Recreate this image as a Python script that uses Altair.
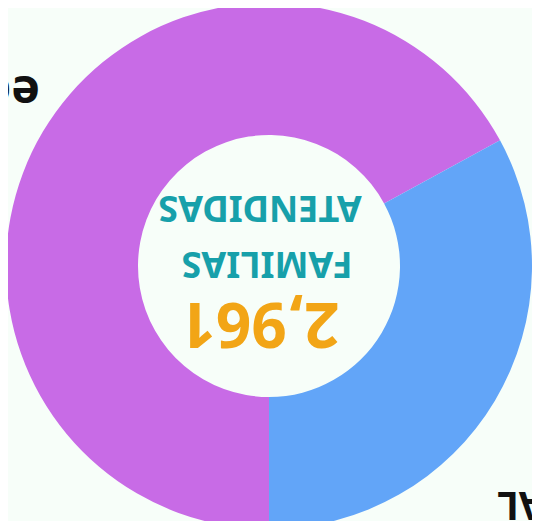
import math
import altair as alt
import pandas as pd

# Slices (the chart is shown rotated by 180 degrees)
categories = ["edad", "RURAL"]
values = [1986, 975]
slice_colors = ["#C86BE6", "#62A5F8"]

# Centre texts
center_texts = ["2,961", "FAMILIAS", "ATENDIDAS"]
center_colors = ["#F2A516", "#17A0AA", "#17A0AA"]
center_sizes = [62, 36, 36]
center_x = [252, 259, 252]
center_y = [314, 255, 199]

FONT = "Noto Sans"
W, H = 524, 513
CX, CY = 261, 258

slices = pd.DataFrame({
    "category": categories,
    "value": values,
    "idx": list(range(len(categories))),
})

arc = alt.Chart(slices).mark_arc(radius=263, radius2=131, stroke=None).encode(
    theta=alt.Theta("value:Q", stack=True,
                    scale=alt.Scale(range=[math.pi, 3 * math.pi])),
    order=alt.Order("idx:Q"),
    color=alt.Color("category:N", scale=alt.Scale(domain=categories, range=slice_colors), legend=None),
    x=alt.value(CX),
    y=alt.value(CY),
)

centre = pd.DataFrame({
    "text": center_texts,
    "color": center_colors,
    "size": center_sizes,
    "x": center_x,
    "y": center_y,
})

centre_text = alt.Chart(centre).mark_text(
    angle=180, align="center", baseline="middle", font=FONT, fontWeight="bold"
).encode(
    text="text:N",
    x=alt.X("x:Q", scale=None, axis=None),
    y=alt.Y("y:Q", scale=None, axis=None),
    color=alt.Color("color:N", scale=None),
    size=alt.Size("size:Q", scale=None, legend=None),
)

lab_blue = alt.Chart(pd.DataFrame({"text": [categories[1]]})).mark_text(
    angle=180, align="right", baseline="middle", font=FONT, fontWeight="bold",
    fontSize=39, color="#111111"
).encode(text="text:N", x=alt.value(489), y=alt.value(496))

lab_purple = alt.Chart(pd.DataFrame({"text": [categories[0]]})).mark_text(
    angle=180, align="left", baseline="middle", font=FONT, fontWeight="bold",
    fontSize=48, color="#111111"
).encode(text="text:N", x=alt.value(32), y=alt.value(82))

chart = alt.layer(arc, centre_text, lab_blue, lab_purple).properties(
    width=W, height=H, padding=0, autosize=alt.AutoSizeParams(type="none"),
    background="#F7FEF9",
).configure_view(stroke=None)

chart.save("out.html", embed_options={"renderer": "svg", "actions": False})
